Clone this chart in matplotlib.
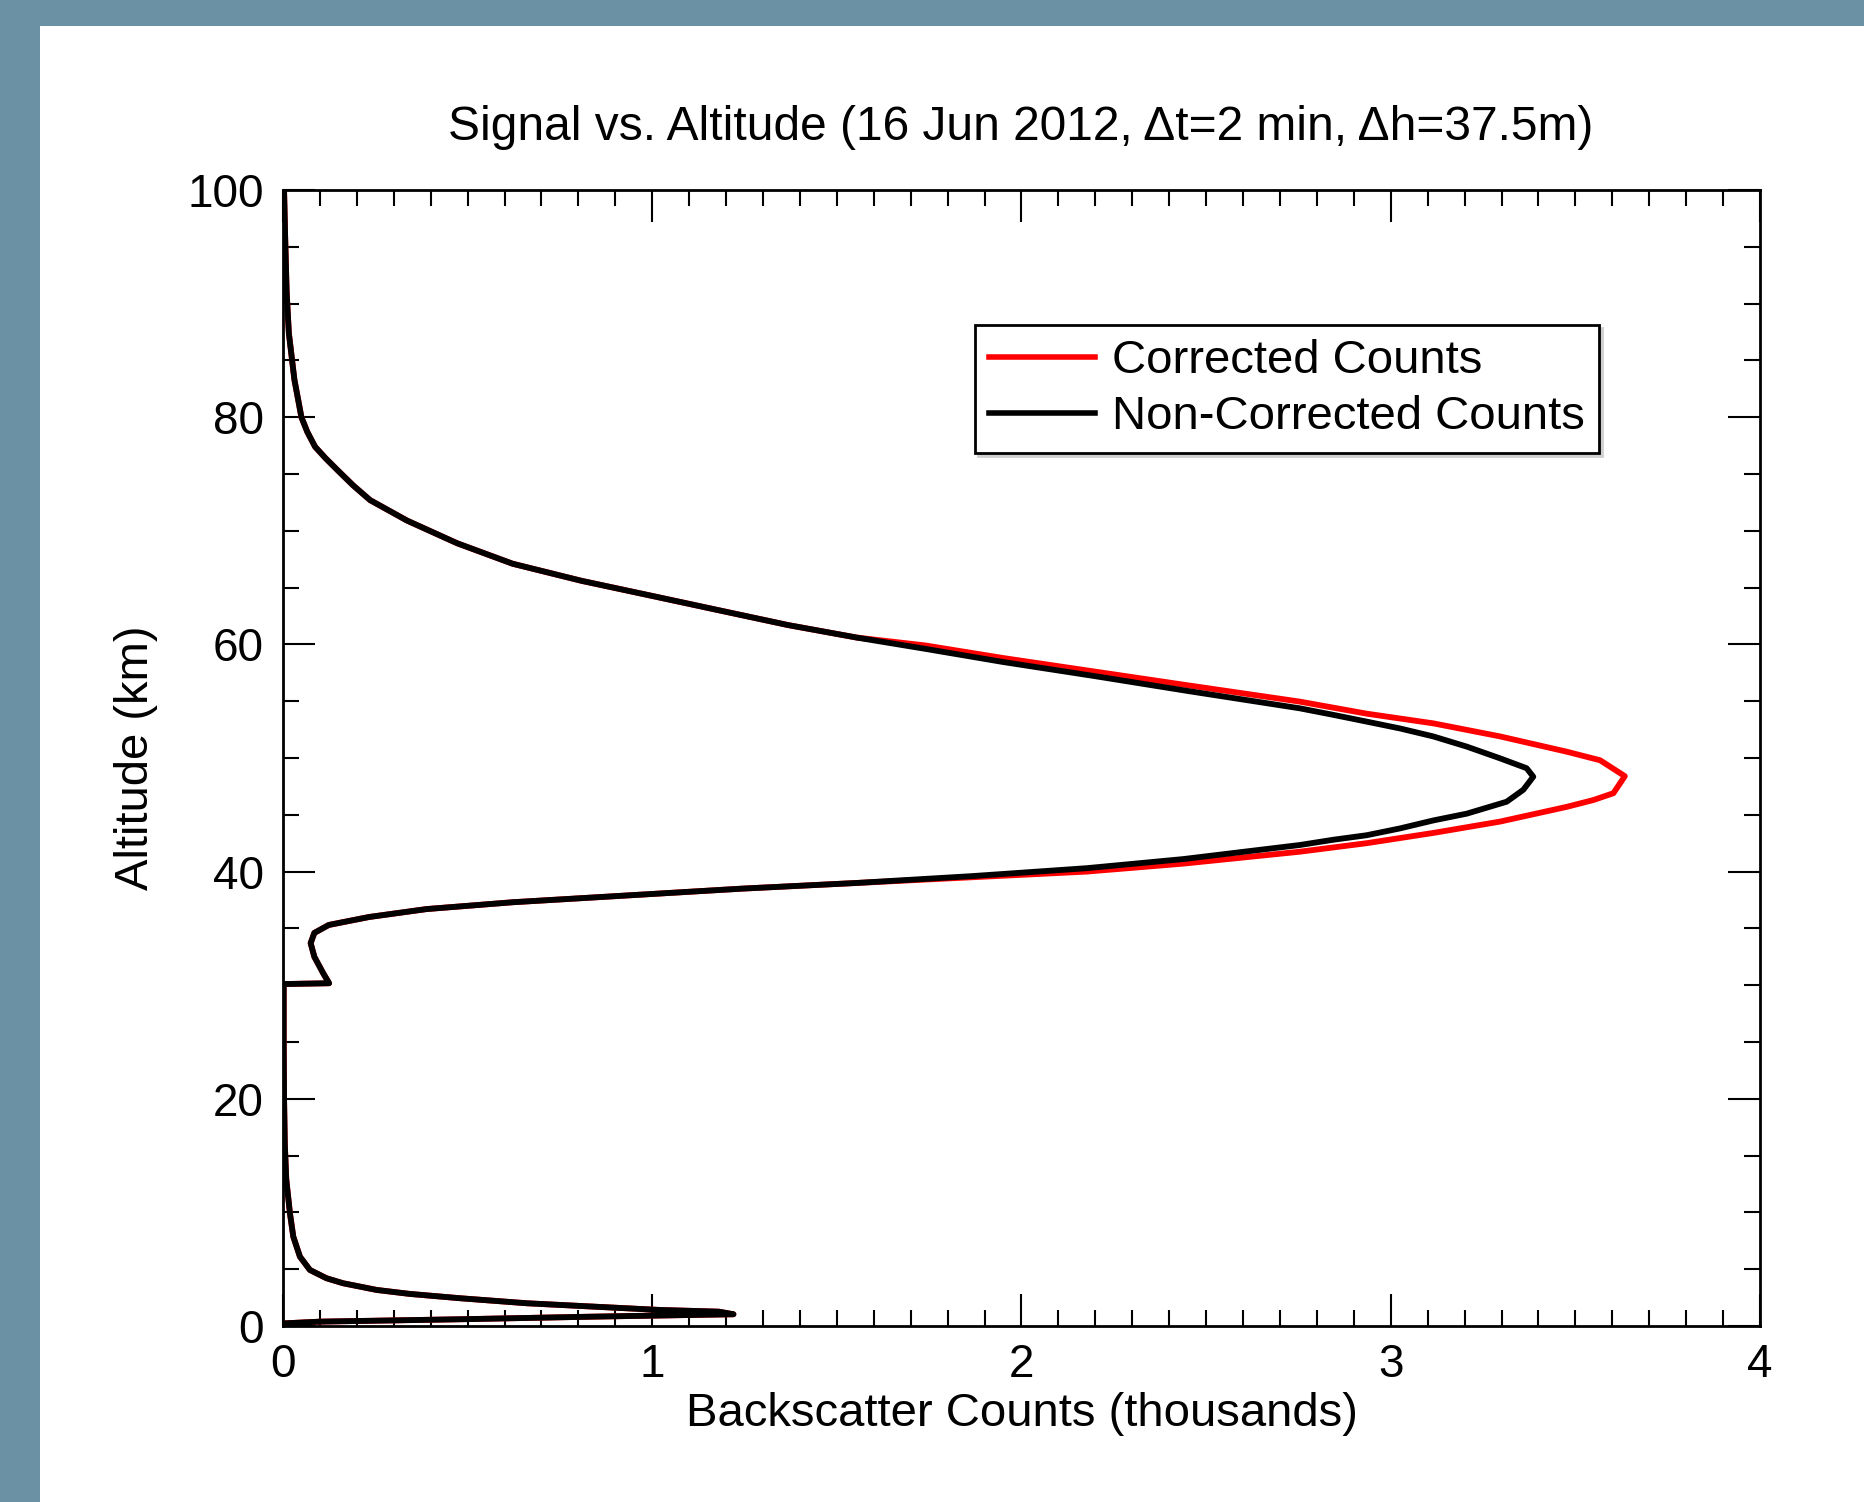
import matplotlib
matplotlib.use('Agg')
import matplotlib.pyplot as plt
from matplotlib.patches import Rectangle
from matplotlib.ticker import MultipleLocator

plt.rcParams['font.family'] = ['Liberation Sans', 'DejaVu Sans']

# altitude (km) / counts (thousands): part shared by both profiles, below 39 km
alt_low = [0.24, 0.38, 0.59, 0.82, 1.03, 1.26, 1.41, 2.0, 2.44, 2.82, 3.17, 3.76,
           4.2, 4.93, 6.1, 7.86, 9.9, 12.9, 16, 20, 25, 30.1, 30.17, 31.05, 32.5,
           33.7, 34.6, 35.3, 36.0, 36.7, 37.3, 37.9, 38.5, 39.0]
cnt_low = [0.01, 0.10, 0.48, 0.84, 1.22, 1.18, 1.02, 0.66, 0.48, 0.344, 0.254,
           0.163, 0.118, 0.073, 0.046, 0.028, 0.019, 0.009, 0.005, 0.003, 0.002,
           0.002, 0.125, 0.109, 0.085, 0.075, 0.085, 0.124, 0.233, 0.389, 0.622,
           0.933, 1.244, 1.555]

# shared part above 61 km
alt_high = [61.7, 63.0, 64.3, 65.6, 67.1, 68.9, 70.9, 72.7, 74.0, 75.3, 76.4,
            77.4, 78.7, 80.0, 83.3, 87.4, 91.0, 95.8, 100]
cnt_high = [1.368, 1.181, 0.995, 0.808, 0.622, 0.472, 0.336, 0.236, 0.19, 0.149,
            0.115, 0.087, 0.066, 0.050, 0.031, 0.016, 0.010, 0.006, 0.003]

# layer peak, non-corrected
alt_mid_black = [39.6, 40.3, 41.1, 42.34, 42.8, 43.2, 43.8, 44.5, 45.1, 46.15,
                 47.2, 48.35, 49.1, 49.97, 51.0, 51.9, 52.6, 53.2, 53.8, 54.37,
                 55.9, 57.2, 58.45, 59.6, 60.6]
cnt_mid_black = [1.866, 2.177, 2.438, 2.754, 2.844, 2.935, 3.025, 3.115, 3.206,
                 3.314, 3.359, 3.386, 3.368, 3.296, 3.206, 3.115, 3.025, 2.935,
                 2.844, 2.754, 2.45, 2.20, 1.95, 1.741, 1.554]

# layer peak, corrected
alt_mid_red = [39.5, 40.0, 40.7, 41.75, 42.5, 43.4, 44.4, 45.7, 46.3, 46.9, 48.4,
               49.8, 50.55, 51.9, 53.05, 53.9, 54.96, 56.4, 57.6, 58.8, 59.9, 60.6]
cnt_mid_red = [1.866, 2.177, 2.438, 2.754, 2.935, 3.115, 3.296, 3.477, 3.549,
               3.603, 3.634, 3.567, 3.477, 3.296, 3.115, 2.935, 2.754, 2.45, 2.20,
               1.95, 1.741, 1.554]

alt_black = alt_low + alt_mid_black + alt_high
cnt_black = cnt_low + cnt_mid_black + cnt_high
alt_red = alt_low + alt_mid_red + alt_high
cnt_red = cnt_low + cnt_mid_red + cnt_high

fig = plt.figure(figsize=(18.64, 15.02), dpi=100)
fig.patch.set_facecolor('#6b91a5')
fig.patches.append(Rectangle((40 / 1864, 0), 1 - 40 / 1864, 1 - 26 / 1502,
                             transform=fig.transFigure, facecolor='white',
                             edgecolor='none', zorder=-10))

ax = fig.add_axes([0.1518, 0.1172, 0.7924, 0.7563])

ax.plot(cnt_red, alt_red, color='#ff0000', lw=4.2, label='Corrected Counts')
ax.plot(cnt_black, alt_black, color='black', lw=4.2, label='Non-Corrected Counts')

ax.set_xlim(0, 4)
ax.set_ylim(0, 100)
ax.xaxis.set_major_locator(MultipleLocator(1))
ax.xaxis.set_minor_locator(MultipleLocator(0.1))
ax.yaxis.set_major_locator(MultipleLocator(20))
ax.yaxis.set_minor_locator(MultipleLocator(5))
ax.tick_params(which='both', direction='in', top=True, right=True, width=1.5,
               labelsize=33)
ax.tick_params(which='major', length=23)
ax.tick_params(which='minor', length=11.5)
ax.tick_params(axis='y', pad=14)
ax.tick_params(axis='x', pad=12)
for s in ax.spines.values():
    s.set_linewidth(2)

ax.set_xlabel('Backscatter Counts (thousands)', fontsize=34, labelpad=4)
ax.set_ylabel('Altitude (km)', fontsize=34, labelpad=21)
fig.text(0.5478, 0.9154, 'Signal vs. Altitude (16 Jun 2012, \u0394t=2 min, \u0394h=37.5m)',
         fontsize=34.5, ha='center', va='center')

leg = ax.legend(loc='upper left', bbox_to_anchor=(0.4685, 0.881), borderaxespad=0,
                fontsize=34, handlelength=2.25, handletextpad=0.35, borderpad=0.3,
                labelspacing=0.25, fancybox=False, edgecolor='black',
                shadow={'color': '#cfcfcf', 'alpha': 1})
leg.get_frame().set_linewidth(2)
for h in leg.get_lines():
    h.set_linewidth(4)

fig.savefig('out.png', dpi=100, facecolor=fig.get_facecolor())
